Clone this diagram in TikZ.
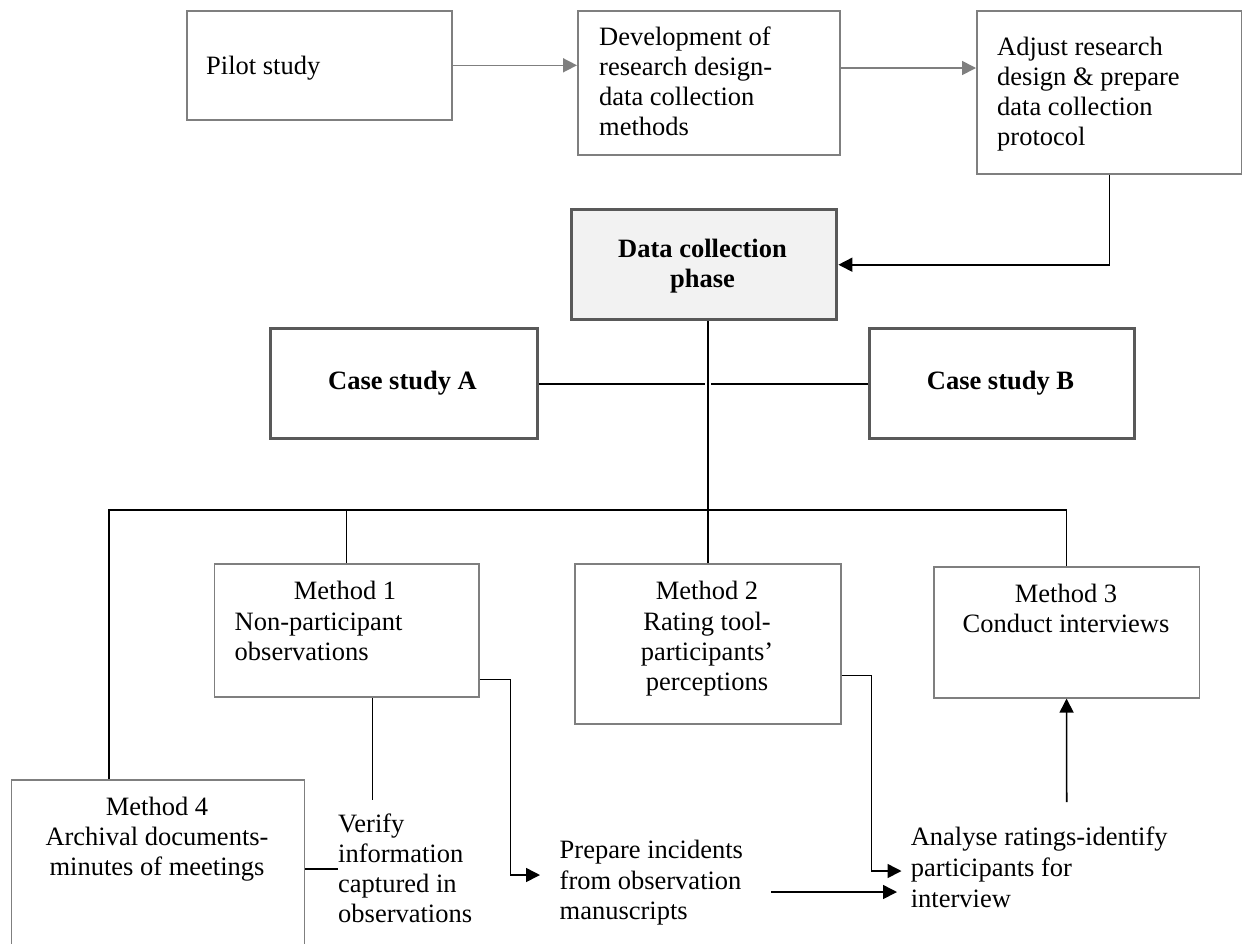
\documentclass[tikz,border=0pt]{standalone}
\usepackage{fontspec}
\setmainfont{Liberation Serif}
\usetikzlibrary{arrows.meta,calc}
\definecolor{boxgray}{HTML}{7F7F7F}
\definecolor{boldgray}{HTML}{595959}
\definecolor{phasefill}{HTML}{F2F2F2}
\begin{document}
\begin{tikzpicture}[x=1pt,y=-1pt,
  thinbox/.style={draw=boxgray, line width=1.6pt, inner sep=0pt, anchor=north west},
  thickbox/.style={draw=boldgray, line width=3.4pt, inner sep=0pt, anchor=north west},
  lbl/.style={inner sep=0pt, font=\fontsize{26.5}{30}\selectfont},
  blbl/.style={lbl, font=\fontsize{26.5}{30}\selectfont\bfseries},
  grayarrow/.style={draw=boxgray, line width=1.6pt, -{Triangle[length=14pt,width=14pt]}},
  link/.style={draw=black, line width=1.6pt},
  arrowlink/.style={link, -{Triangle[length=14pt,width=14pt]}}]

\useasboundingbox (0,0) rectangle (1242,943);
\clip (0,0) rectangle (1242,943);
\fill[white] (0,0) rectangle (1242,943);

% boxes
\node[thinbox, minimum width=265pt, minimum height=109pt] (pilot) at (186,10) {};
\node[thinbox, minimum width=262pt, minimum height=144pt] (dev) at (577,10) {};
\node[thinbox, minimum width=265pt, minimum height=163pt] (adjust) at (976,10) {};
\node[thickbox, fill=phasefill, minimum width=265pt, minimum height=110pt] (dcp) at (570,208) {};
\node[thickbox, minimum width=267pt, minimum height=110pt] (caseA) at (269,327) {};
\node[thickbox, minimum width=265.5pt, minimum height=110pt] (caseB) at (867.5,327) {};
\node[thinbox, minimum width=264.5pt, minimum height=133pt] (m1) at (213.5,563) {};
\node[thinbox, minimum width=266pt, minimum height=160pt] (m2) at (574,563) {};
\node[thinbox, minimum width=265.5pt, minimum height=131pt] (m3) at (933,566) {};
\node[thinbox, minimum width=293pt, minimum height=180pt] (m4) at (10.7,779) {};

% box texts
\node[lbl, anchor=base west] (tpilot) at (206,74) {Pilot study};

\node[lbl, anchor=base west] (tdev1) at (599,45) {Development of};
\node[lbl, anchor=base west] (tdev2) at (599,75) {research design-};
\node[lbl, anchor=base west] (tdev3) at (599,105) {data collection};
\node[lbl, anchor=base west] (tdev4) at (599,135) {methods};

\node[lbl, anchor=base west] (tadj1) at (997,55) {Adjust research};
\node[lbl, anchor=base west] (tadj2) at (997,85) {design \& prepare};
\node[lbl, anchor=base west] (tadj3) at (997,115) {data collection};
\node[lbl, anchor=base west] (tadj4) at (997,145) {protocol};

\node[blbl, anchor=base] (tdcp1) at (702.5,257) {Data collection};
\node[blbl, anchor=base] (tdcp2) at (702.5,287) {phase};

\node[blbl, anchor=base] (tcaseA) at (402.5,389) {Case study A};
\node[blbl, anchor=base] (tcaseB) at (1000.5,389) {Case study B};

\node[lbl, anchor=base] (tm11) at (345,599) {Method 1};
\node[lbl, anchor=base west] (tm12) at (234.5,630) {Non-participant};
\node[lbl, anchor=base west] (tm13) at (234.5,660) {observations};

\node[lbl, anchor=base] (tm21) at (707,599) {Method 2};
\node[lbl, anchor=base] (tm22) at (707,630) {Rating tool-};
\node[lbl, anchor=base] (tm23) at (707,660) {participants’};
\node[lbl, anchor=base] (tm24) at (707,690) {perceptions};

\node[lbl, anchor=base] (tm31) at (1066,602) {Method 3};
\node[lbl, anchor=base] (tm32) at (1066,632) {Conduct interviews};

\node[lbl, anchor=base] (tm41) at (157,815) {Method 4};
\node[lbl, anchor=base] (tm42) at (157,845) {Archival documents-};
\node[lbl, anchor=base] (tm43) at (157,875) {minutes of meetings};

% free-standing steps
\node[lbl, anchor=base west] (tver1) at (338,832) {Verify};
\node[lbl, anchor=base west] (tver2) at (338,862) {information};
\node[lbl, anchor=base west] (tver3) at (338,892) {captured in};
\node[lbl, anchor=base west] (tver4) at (338,922) {observations};

\node[lbl, anchor=base west] (tprep1) at (559.5,858) {Prepare incidents};
\node[lbl, anchor=base west] (tprep2) at (559.5,889) {from observation};
\node[lbl, anchor=base west] (tprep3) at (559.5,919) {manuscripts};

\node[lbl, anchor=base west] (tana1) at (910.6,845.5) {Analyse ratings-identify};
\node[lbl, anchor=base west] (tana2) at (910.6,876.5) {participants for};
\node[lbl, anchor=base west] (tana3) at (910.6,907) {interview};

% connector end points
\coordinate (busL) at (109,510);
\coordinate (devout) at ($(dev.north east)+(0,58)$);
\coordinate (m1low) at ($(m1.south west)+(159,0)$);
\coordinate (vertop) at ($(m1low)+(0,102)$);
\coordinate (verleft) at (338,869);
\coordinate (m1out) at ($(m1.south east)+(0,-18)$);
\coordinate (prepin) at (540,875);
\coordinate (m2out) at ($(m2.south east)+(0,-49)$);
\coordinate (anain1) at (901.5,871);
\coordinate (prepout) at (771,892);
\coordinate (anain2) at (897,892);
\coordinate (anaup) at (1066.7,802);

% top row
\draw[grayarrow] (pilot.east) -- (dev.west |- pilot.east);
\draw[grayarrow] (devout) -- (adjust.west |- devout);
\draw[arrowlink] (adjust.south) |- (dcp.east);

% case studies and the trunk
\draw[link] (m2.north) -- (m2.north |- dcp.south);
\draw[link] (caseA.east) -- ($(m2.north |- caseA.east)+(-3,0)$);
\draw[link] ($(m2.north |- caseA.east)+(3,0)$) -- (caseB.west);

% bus to the methods
\draw[link] (busL |- m4.north) -- (busL) -- (m3.north |- busL) -- (m3.north);
\draw[link] (m1.north) -- (m1.north |- busL);

% follow-up steps
\draw[link] (m1low) -- (vertop);
\draw[link] (m4.east |- verleft) -- (verleft);
\draw[arrowlink] (m1out) -- ++(31,0) |- (prepin);
\draw[arrowlink] (m2out) -- ++(30,0) |- (anain1);
\draw[arrowlink] (prepout) -- (anain2);
\draw[arrowlink] (anaup) -- (m3.south);

\end{tikzpicture}
\end{document}
